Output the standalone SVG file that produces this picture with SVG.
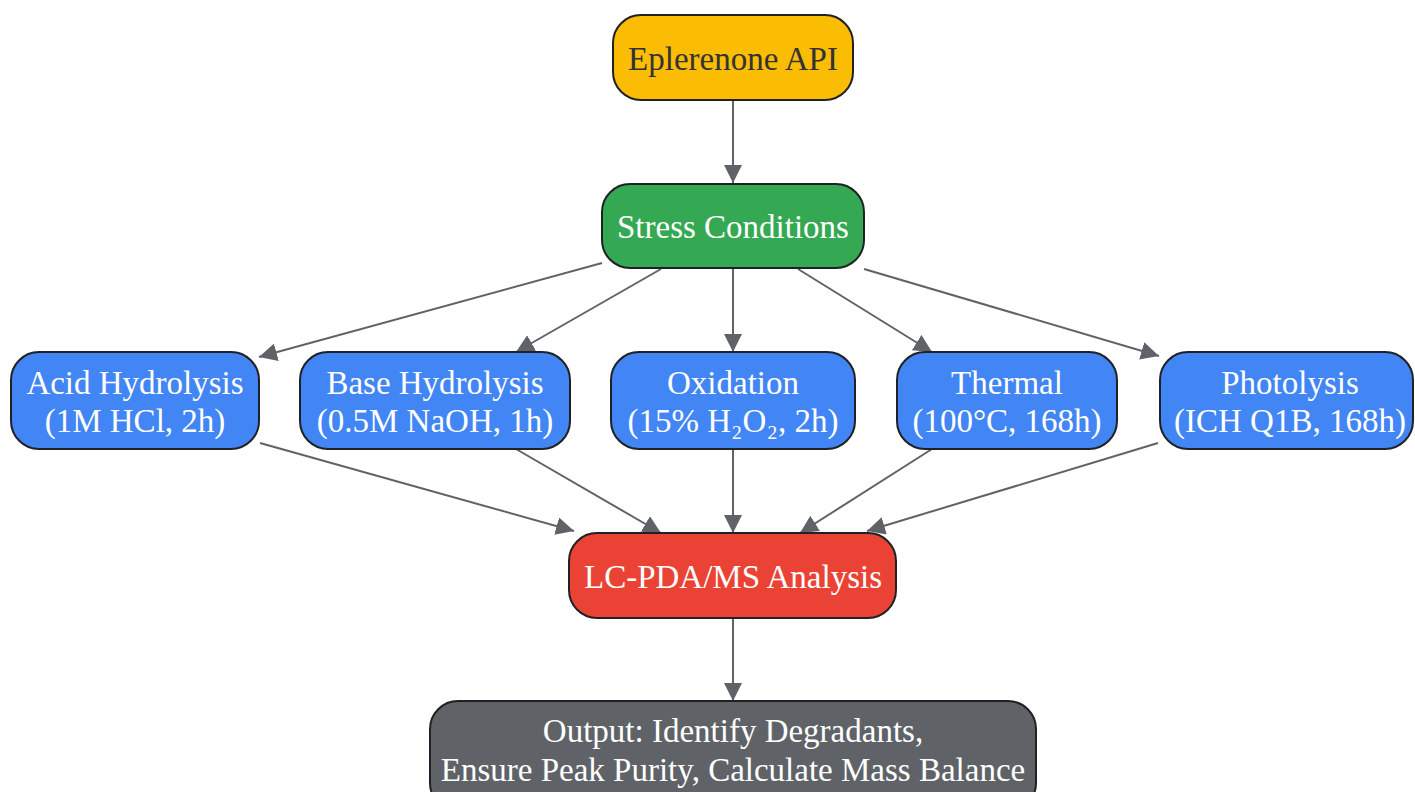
<svg xmlns="http://www.w3.org/2000/svg" width="1415" height="792" viewBox="0 0 1415 792">
<style>
.n rect{stroke:#202124;stroke-width:2}
.n text{font-family:"Liberation Serif","Times New Roman",serif;font-size:33px;text-anchor:middle;fill:#fff}
.e line{stroke:#5F6368;stroke-width:2;marker-end:url(#ah)}
</style>
<defs>
<marker id="ah" markerUnits="userSpaceOnUse" markerWidth="20" markerHeight="18" refX="18" refY="9" orient="auto">
<path d="M0,0 L18,9 L0,18 Z" fill="#5F6368"/>
</marker>
</defs>
<rect width="1415" height="792" fill="#fff"/>
<g class="e" id="connectors">
<line x1="733" y1="100" x2="733" y2="183"/>
<line x1="602" y1="263" x2="259" y2="357"/>
<line x1="661" y1="269" x2="516" y2="352"/>
<line x1="733" y1="268" x2="733" y2="352"/>
<line x1="798" y1="269" x2="932" y2="352"/>
<line x1="864" y1="269" x2="1159" y2="356"/>
<line x1="260" y1="443" x2="574" y2="531"/>
<line x1="516" y1="449" x2="661" y2="533"/>
<line x1="733" y1="449" x2="733" y2="533"/>
<line x1="932" y1="449" x2="800" y2="533"/>
<line x1="1158" y1="443" x2="867" y2="531"/>
<line x1="733" y1="618" x2="733" y2="701"/>
</g>
<g class="n" id="api"><rect x="613" y="15" width="240" height="85" rx="28" fill="#FBBC04"/><text x="733" y="70" style="fill:#333">Eplerenone API</text></g>
<g class="n" id="stress"><rect x="602" y="184" width="262" height="84" rx="28" fill="#34A853"/><text x="733" y="238">Stress Conditions</text></g>
<g class="n" id="acid"><rect x="11" y="352" width="248" height="97" rx="28" fill="#4285F4"/><text x="135" y="394">Acid Hydrolysis</text><text x="135" y="432">(1M HCl, 2h)</text></g>
<g class="n" id="base"><rect x="300" y="352" width="270" height="97" rx="28" fill="#4285F4"/><text x="435" y="394">Base Hydrolysis</text><text x="435" y="432">(0.5M NaOH, 1h)</text></g>
<g class="n" id="oxidation"><rect x="611" y="352" width="244" height="97" rx="28" fill="#4285F4"/><text x="733" y="394">Oxidation</text><text x="733" y="432">(15% H₂O₂, 2h)</text></g>
<g class="n" id="thermal"><rect x="897" y="352" width="220" height="97" rx="28" fill="#4285F4"/><text x="1007" y="394">Thermal</text><text x="1007" y="432">(100°C, 168h)</text></g>
<g class="n" id="photolysis"><rect x="1160" y="352" width="253" height="97" rx="28" fill="#4285F4"/><text x="1290" y="394">Photolysis</text><text x="1290" y="432">(ICH Q1B, 168h)</text></g>
<g class="n" id="lc"><rect x="569" y="533" width="327" height="85" rx="28" fill="#EA4335"/><text x="733" y="588">LC-PDA/MS Analysis</text></g>
<g class="n" id="output"><rect x="430" y="701" width="606" height="110" rx="28" fill="#5F6368"/><text x="733" y="742">Output: Identify Degradants,</text><text x="733" y="781">Ensure Peak Purity, Calculate Mass Balance</text></g>
</svg>
